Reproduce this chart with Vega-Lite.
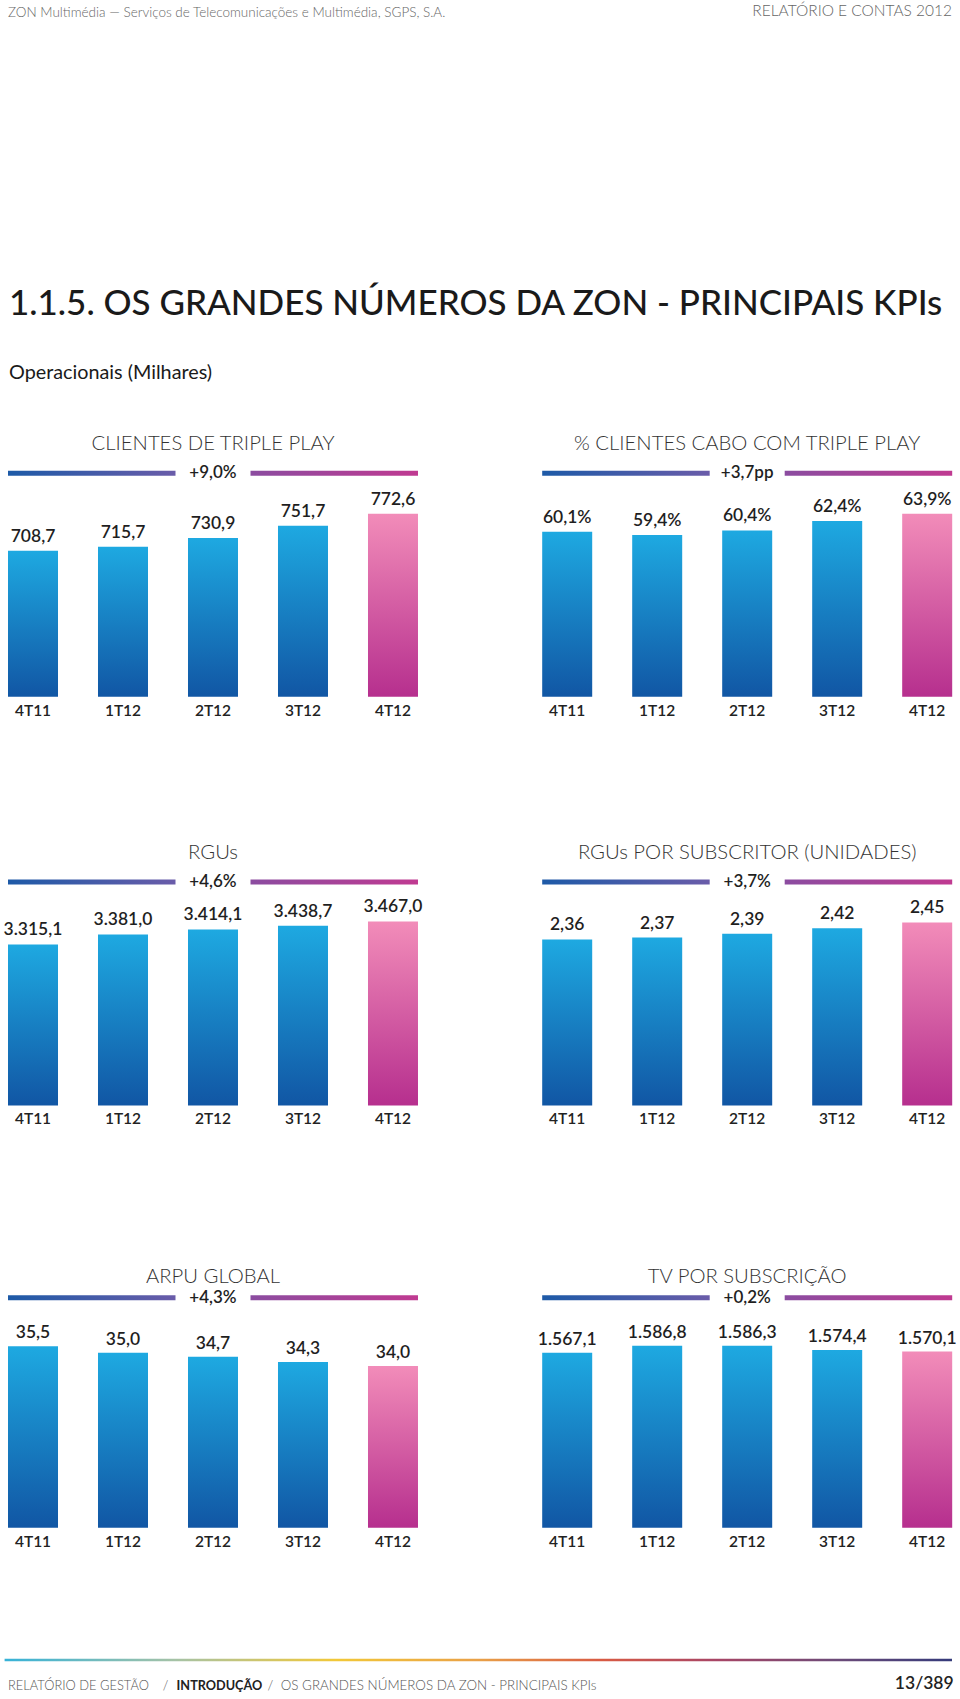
{
  "$schema": "https://vega.github.io/schema/vega-lite/v6.json",
  "background": "white",
  "padding": {"left": 2.6, "top": 3.8, "right": 2, "bottom": 2},
  "config": {
    "locale": {"number": {"decimal": ",", "thousands": ".", "grouping": [3], "currency": ["", " €"]}},
    "view": {"stroke": null},
    "font": "Lato",
    "title": {"font": "Lato", "fontSize": 20.3, "fontWeight": 300, "color": "#333333", "offset": 9.6, "anchor": "middle", "frame": "group"},
    "axis": {"domain": false, "ticks": false, "tickSize": 0, "labelPadding": 6.6, "labelFont": "Lato", "labelFontSize": 15.5, "labelFontWeight": 600, "labelColor": "#222222", "labelAngle": 0, "grid": false}
  },
  "spacing": 109,
  "vconcat": [
    {
      "bounds": "flush",
      "spacing": 4,
      "hconcat": [
        {"width": 470, "height": 157.8, "title": {"text": "ZON Multimédia — Serviços de Telecomunicações e Multimédia, SGPS, S.A.", "anchor": "start", "fontSize": 13.5, "fontWeight": 300, "color": "#666666", "offset": 0, "dx": 3.4}, "data": {"values": []}, "mark": "point", "encoding": {}},
        {"width": 473.4, "height": 157.8, "title": {"text": "RELATÓRIO E CONTAS 2012", "anchor": "end", "fontSize": 15.5, "fontWeight": 300, "color": "#666666", "offset": 0}, "data": {"values": []}, "mark": "point", "encoding": {}}
      ]
    },
    {
      "spacing": 138.4,
      "title": {"text": "1.1.5. OS GRANDES NÚMEROS DA ZON - PRINCIPAIS KPIs", "subtitle": "Operacionais (Milhares)", "anchor": "start", "frame": "group", "dx": 4.4, "font": "Lato", "fontSize": 35, "fontWeight": 500, "color": "#1a1a1a", "subtitleFont": "Lato", "subtitleFontSize": 19.8, "subtitleFontWeight": 400, "subtitleColor": "#1a1a1a", "subtitlePadding": 40.5, "offset": 52},
      "vconcat": [
        {
          "spacing": 122.6,
          "vconcat": [
            {
              "bounds": "flush",
              "spacing": 117.2,
              "hconcat": [
                {
                  "width": 416.8, "height": 226,
                  "title": {"text": "CLIENTES DE TRIPLE PLAY"},
                  "data": {"values": [
                    {"trimestre": "4T11", "valor": 708.7},
                    {"trimestre": "1T12", "valor": 715.7},
                    {"trimestre": "2T12", "valor": 730.9},
                    {"trimestre": "3T12", "valor": 751.7},
                    {"trimestre": "4T12", "valor": 772.6}
                  ]},
                  "encoding": {"x": {"field": "trimestre", "type": "nominal", "sort": null, "title": null, "scale": {"paddingInner": 0.4444, "paddingOuter": 0.0378}}},
                  "layer": [
                    {"mark": {"type": "bar"}, "encoding": {
                      "y": {"field": "valor", "type": "quantitative", "scale": {"domain": [456.5, 846.8], "nice": false, "zero": false}, "axis": null},
                      "y2": {"datum": 456.5},
                      "color": {"condition": {"test": "datum.trimestre === '4T12'", "value": {"gradient": "linear", "x1": 0, "y1": 0, "x2": 0, "y2": 1, "stops": [{"offset": 0, "color": "#f28cb9"}, {"offset": 1, "color": "#b62f8e"}]}}, "value": {"gradient": "linear", "x1": 0, "y1": 0, "x2": 0, "y2": 1, "stops": [{"offset": 0, "color": "#1ea9e1"}, {"offset": 1, "color": "#1156a4"}]}}
                    }},
                    {"mark": {"type": "text", "baseline": "alphabetic", "dy": -9, "font": "Lato", "fontSize": 17.5, "fontWeight": 600, "color": "#1f1f1f"}, "encoding": {"y": {"field": "valor", "type": "quantitative"}, "text": {"field": "valor", "type": "quantitative", "format": ",.1f"}}},
                    {"data": {"values": [{"variacao": "+9,0%"}]}, "layer": [
                      {"mark": {"type": "rect", "color": {"gradient": "linear", "x1": 0, "y1": 0, "x2": 1, "y2": 0, "stops": [{"offset": 0, "color": "#1d5aa7"}, {"offset": 1, "color": "#6a5ca9"}]}}, "encoding": {"x": {"datum": "4T11", "bandPosition": 0}, "x2": {"datum": "2T12", "bandPosition": -0.25}, "y": {"datum": 846.8}, "y2": {"datum": 838.16}}},
                      {"mark": {"type": "rect", "color": {"gradient": "linear", "x1": 0, "y1": 0, "x2": 1, "y2": 0, "stops": [{"offset": 0, "color": "#8b4ca0"}, {"offset": 1, "color": "#c03a91"}]}}, "encoding": {"x": {"datum": "2T12", "bandPosition": 1.25}, "x2": {"datum": "4T12", "bandPosition": 1}, "y": {"datum": 846.8}, "y2": {"datum": 838.16}}},
                      {"mark": {"type": "text", "baseline": "middle", "font": "Lato", "fontSize": 17, "fontWeight": 600, "color": "#1f1f1f"}, "encoding": {"x": {"datum": "2T12", "bandPosition": 0.5}, "y": {"datum": 842.48}, "text": {"field": "variacao"}}}
                    ]}
                  ]
                },
                {
                  "width": 416.8, "height": 226,
                  "title": {"text": "% CLIENTES CABO COM TRIPLE PLAY"},
                  "data": {"values": [
                    {"trimestre": "4T11", "valor": 0.601},
                    {"trimestre": "1T12", "valor": 0.594},
                    {"trimestre": "2T12", "valor": 0.604},
                    {"trimestre": "3T12", "valor": 0.624},
                    {"trimestre": "4T12", "valor": 0.639}
                  ]},
                  "encoding": {"x": {"field": "trimestre", "type": "nominal", "sort": null, "title": null, "scale": {"paddingInner": 0.4444, "paddingOuter": 0.0378}}},
                  "layer": [
                    {"mark": {"type": "bar"}, "encoding": {
                      "y": {"field": "valor", "type": "quantitative", "scale": {"domain": [0.2529, 0.7297], "nice": false, "zero": false}, "axis": null},
                      "y2": {"datum": 0.2529},
                      "color": {"condition": {"test": "datum.trimestre === '4T12'", "value": {"gradient": "linear", "x1": 0, "y1": 0, "x2": 0, "y2": 1, "stops": [{"offset": 0, "color": "#f28cb9"}, {"offset": 1, "color": "#b62f8e"}]}}, "value": {"gradient": "linear", "x1": 0, "y1": 0, "x2": 0, "y2": 1, "stops": [{"offset": 0, "color": "#1ea9e1"}, {"offset": 1, "color": "#1156a4"}]}}
                    }},
                    {"mark": {"type": "text", "baseline": "alphabetic", "dy": -9, "font": "Lato", "fontSize": 17.5, "fontWeight": 600, "color": "#1f1f1f"}, "encoding": {"y": {"field": "valor", "type": "quantitative"}, "text": {"field": "valor", "type": "quantitative", "format": ".1%"}}},
                    {"data": {"values": [{"variacao": "+3,7pp"}]}, "layer": [
                      {"mark": {"type": "rect", "color": {"gradient": "linear", "x1": 0, "y1": 0, "x2": 1, "y2": 0, "stops": [{"offset": 0, "color": "#1d5aa7"}, {"offset": 1, "color": "#6a5ca9"}]}}, "encoding": {"x": {"datum": "4T11", "bandPosition": 0}, "x2": {"datum": "2T12", "bandPosition": -0.25}, "y": {"datum": 0.7297}, "y2": {"datum": 0.71915}}},
                      {"mark": {"type": "rect", "color": {"gradient": "linear", "x1": 0, "y1": 0, "x2": 1, "y2": 0, "stops": [{"offset": 0, "color": "#8b4ca0"}, {"offset": 1, "color": "#c03a91"}]}}, "encoding": {"x": {"datum": "2T12", "bandPosition": 1.25}, "x2": {"datum": "4T12", "bandPosition": 1}, "y": {"datum": 0.7297}, "y2": {"datum": 0.71915}}},
                      {"mark": {"type": "text", "baseline": "middle", "font": "Lato", "fontSize": 17, "fontWeight": 600, "color": "#1f1f1f"}, "encoding": {"x": {"datum": "2T12", "bandPosition": 0.5}, "y": {"datum": 0.72443}, "text": {"field": "variacao"}}}
                    ]}
                  ]
                }
              ]
            },
            {
              "bounds": "flush",
              "spacing": 117.2,
              "hconcat": [
                {
                  "width": 416.8, "height": 226,
                  "title": {"text": "RGUs"},
                  "data": {"values": [
                    {"trimestre": "4T11", "valor": 3315.1},
                    {"trimestre": "1T12", "valor": 3381.0},
                    {"trimestre": "2T12", "valor": 3414.1},
                    {"trimestre": "3T12", "valor": 3438.7},
                    {"trimestre": "4T12", "valor": 3467.0}
                  ]},
                  "encoding": {"x": {"field": "trimestre", "type": "nominal", "sort": null, "title": null, "scale": {"paddingInner": 0.4444, "paddingOuter": 0.0378}}},
                  "layer": [
                    {"mark": {"type": "bar"}, "encoding": {
                      "y": {"field": "valor", "type": "quantitative", "scale": {"domain": [2252, 3744.7], "nice": false, "zero": false}, "axis": null},
                      "y2": {"datum": 2252},
                      "color": {"condition": {"test": "datum.trimestre === '4T12'", "value": {"gradient": "linear", "x1": 0, "y1": 0, "x2": 0, "y2": 1, "stops": [{"offset": 0, "color": "#f28cb9"}, {"offset": 1, "color": "#b62f8e"}]}}, "value": {"gradient": "linear", "x1": 0, "y1": 0, "x2": 0, "y2": 1, "stops": [{"offset": 0, "color": "#1ea9e1"}, {"offset": 1, "color": "#1156a4"}]}}
                    }},
                    {"mark": {"type": "text", "baseline": "alphabetic", "dy": -9, "font": "Lato", "fontSize": 17.5, "fontWeight": 600, "color": "#1f1f1f"}, "encoding": {"y": {"field": "valor", "type": "quantitative"}, "text": {"field": "valor", "type": "quantitative", "format": ",.1f"}}},
                    {"data": {"values": [{"variacao": "+4,6%"}]}, "layer": [
                      {"mark": {"type": "rect", "color": {"gradient": "linear", "x1": 0, "y1": 0, "x2": 1, "y2": 0, "stops": [{"offset": 0, "color": "#1d5aa7"}, {"offset": 1, "color": "#6a5ca9"}]}}, "encoding": {"x": {"datum": "4T11", "bandPosition": 0}, "x2": {"datum": "2T12", "bandPosition": -0.25}, "y": {"datum": 3744.7}, "y2": {"datum": 3711.7}}},
                      {"mark": {"type": "rect", "color": {"gradient": "linear", "x1": 0, "y1": 0, "x2": 1, "y2": 0, "stops": [{"offset": 0, "color": "#8b4ca0"}, {"offset": 1, "color": "#c03a91"}]}}, "encoding": {"x": {"datum": "2T12", "bandPosition": 1.25}, "x2": {"datum": "4T12", "bandPosition": 1}, "y": {"datum": 3744.7}, "y2": {"datum": 3711.7}}},
                      {"mark": {"type": "text", "baseline": "middle", "font": "Lato", "fontSize": 17, "fontWeight": 600, "color": "#1f1f1f"}, "encoding": {"x": {"datum": "2T12", "bandPosition": 0.5}, "y": {"datum": 3728.2}, "text": {"field": "variacao"}}}
                    ]}
                  ]
                },
                {
                  "width": 416.8, "height": 226,
                  "title": {"text": "RGUs POR SUBSCRITOR (UNIDADES)"},
                  "data": {"values": [
                    {"trimestre": "4T11", "valor": 2.36},
                    {"trimestre": "1T12", "valor": 2.37},
                    {"trimestre": "2T12", "valor": 2.39},
                    {"trimestre": "3T12", "valor": 2.42},
                    {"trimestre": "4T12", "valor": 2.45}
                  ]},
                  "encoding": {"x": {"field": "trimestre", "type": "nominal", "sort": null, "title": null, "scale": {"paddingInner": 0.4444, "paddingOuter": 0.0378}}},
                  "layer": [
                    {"mark": {"type": "bar"}, "encoding": {
                      "y": {"field": "valor", "type": "quantitative", "scale": {"domain": [1.482, 2.678], "nice": false, "zero": false}, "axis": null},
                      "y2": {"datum": 1.482},
                      "color": {"condition": {"test": "datum.trimestre === '4T12'", "value": {"gradient": "linear", "x1": 0, "y1": 0, "x2": 0, "y2": 1, "stops": [{"offset": 0, "color": "#f28cb9"}, {"offset": 1, "color": "#b62f8e"}]}}, "value": {"gradient": "linear", "x1": 0, "y1": 0, "x2": 0, "y2": 1, "stops": [{"offset": 0, "color": "#1ea9e1"}, {"offset": 1, "color": "#1156a4"}]}}
                    }},
                    {"mark": {"type": "text", "baseline": "alphabetic", "dy": -9, "font": "Lato", "fontSize": 17.5, "fontWeight": 600, "color": "#1f1f1f"}, "encoding": {"y": {"field": "valor", "type": "quantitative"}, "text": {"field": "valor", "type": "quantitative", "format": ".2f"}}},
                    {"data": {"values": [{"variacao": "+3,7%"}]}, "layer": [
                      {"mark": {"type": "rect", "color": {"gradient": "linear", "x1": 0, "y1": 0, "x2": 1, "y2": 0, "stops": [{"offset": 0, "color": "#1d5aa7"}, {"offset": 1, "color": "#6a5ca9"}]}}, "encoding": {"x": {"datum": "4T11", "bandPosition": 0}, "x2": {"datum": "2T12", "bandPosition": -0.25}, "y": {"datum": 2.678}, "y2": {"datum": 2.6515}}},
                      {"mark": {"type": "rect", "color": {"gradient": "linear", "x1": 0, "y1": 0, "x2": 1, "y2": 0, "stops": [{"offset": 0, "color": "#8b4ca0"}, {"offset": 1, "color": "#c03a91"}]}}, "encoding": {"x": {"datum": "2T12", "bandPosition": 1.25}, "x2": {"datum": "4T12", "bandPosition": 1}, "y": {"datum": 2.678}, "y2": {"datum": 2.6515}}},
                      {"mark": {"type": "text", "baseline": "middle", "font": "Lato", "fontSize": 17, "fontWeight": 600, "color": "#1f1f1f"}, "encoding": {"x": {"datum": "2T12", "bandPosition": 0.5}, "y": {"datum": 2.66475}, "text": {"field": "variacao"}}}
                    ]}
                  ]
                }
              ]
            }
          ]
        },
        {
          "bounds": "flush",
          "spacing": 117.2,
          "hconcat": [
            {
              "width": 416.8, "height": 232.5,
              "title": {"text": "ARPU GLOBAL", "offset": 1.8},
              "data": {"values": [
                {"trimestre": "4T11", "valor": 35.5},
                {"trimestre": "1T12", "valor": 35.0},
                {"trimestre": "2T12", "valor": 34.7},
                {"trimestre": "3T12", "valor": 34.3},
                {"trimestre": "4T12", "valor": 34.0}
              ]},
              "encoding": {"x": {"field": "trimestre", "type": "nominal", "sort": null, "title": null, "scale": {"paddingInner": 0.4444, "paddingOuter": 0.0378}}},
              "layer": [
                {"mark": {"type": "bar"}, "encoding": {
                  "y": {"field": "valor", "type": "quantitative", "scale": {"domain": [21.85, 39.33], "nice": false, "zero": false}, "axis": null},
                  "y2": {"datum": 21.85},
                  "color": {"condition": {"test": "datum.trimestre === '4T12'", "value": {"gradient": "linear", "x1": 0, "y1": 0, "x2": 0, "y2": 1, "stops": [{"offset": 0, "color": "#f28cb9"}, {"offset": 1, "color": "#b62f8e"}]}}, "value": {"gradient": "linear", "x1": 0, "y1": 0, "x2": 0, "y2": 1, "stops": [{"offset": 0, "color": "#1ea9e1"}, {"offset": 1, "color": "#1156a4"}]}}
                }},
                {"mark": {"type": "text", "baseline": "alphabetic", "dy": -8, "font": "Lato", "fontSize": 17.5, "fontWeight": 600, "color": "#1f1f1f"}, "encoding": {"y": {"field": "valor", "type": "quantitative"}, "text": {"field": "valor", "type": "quantitative", "format": ".1f"}}},
                {"data": {"values": [{"variacao": "+4,3%"}]}, "layer": [
                  {"mark": {"type": "rect", "color": {"gradient": "linear", "x1": 0, "y1": 0, "x2": 1, "y2": 0, "stops": [{"offset": 0, "color": "#1d5aa7"}, {"offset": 1, "color": "#6a5ca9"}]}}, "encoding": {"x": {"datum": "4T11", "bandPosition": 0}, "x2": {"datum": "2T12", "bandPosition": -0.25}, "y": {"datum": 39.33}, "y2": {"datum": 38.954}}},
                  {"mark": {"type": "rect", "color": {"gradient": "linear", "x1": 0, "y1": 0, "x2": 1, "y2": 0, "stops": [{"offset": 0, "color": "#8b4ca0"}, {"offset": 1, "color": "#c03a91"}]}}, "encoding": {"x": {"datum": "2T12", "bandPosition": 1.25}, "x2": {"datum": "4T12", "bandPosition": 1}, "y": {"datum": 39.33}, "y2": {"datum": 38.954}}},
                  {"mark": {"type": "text", "baseline": "middle", "font": "Lato", "fontSize": 17, "fontWeight": 600, "color": "#1f1f1f"}, "encoding": {"x": {"datum": "2T12", "bandPosition": 0.5}, "y": {"datum": 39.142}, "text": {"field": "variacao"}}}
                ]}
              ]
            },
            {
              "width": 416.8, "height": 232.5,
              "title": {"text": "TV POR SUBSCRIÇÃO", "offset": 1.8},
              "data": {"values": [
                {"trimestre": "4T11", "valor": 1567.1},
                {"trimestre": "1T12", "valor": 1586.8},
                {"trimestre": "2T12", "valor": 1586.3},
                {"trimestre": "3T12", "valor": 1574.4},
                {"trimestre": "4T12", "valor": 1570.1}
              ]},
              "encoding": {"x": {"field": "trimestre", "type": "nominal", "sort": null, "title": null, "scale": {"paddingInner": 0.4444, "paddingOuter": 0.0378}}},
              "layer": [
                {"mark": {"type": "bar"}, "encoding": {
                  "y": {"field": "valor", "type": "quantitative", "scale": {"domain": [1074, 1729], "nice": false, "zero": false}, "axis": null},
                  "y2": {"datum": 1074},
                  "color": {"condition": {"test": "datum.trimestre === '4T12'", "value": {"gradient": "linear", "x1": 0, "y1": 0, "x2": 0, "y2": 1, "stops": [{"offset": 0, "color": "#f28cb9"}, {"offset": 1, "color": "#b62f8e"}]}}, "value": {"gradient": "linear", "x1": 0, "y1": 0, "x2": 0, "y2": 1, "stops": [{"offset": 0, "color": "#1ea9e1"}, {"offset": 1, "color": "#1156a4"}]}}
                }},
                {"mark": {"type": "text", "baseline": "alphabetic", "dy": -8, "font": "Lato", "fontSize": 17.5, "fontWeight": 600, "color": "#1f1f1f"}, "encoding": {"y": {"field": "valor", "type": "quantitative"}, "text": {"field": "valor", "type": "quantitative", "format": ",.1f"}}},
                {"data": {"values": [{"variacao": "+0,2%"}]}, "layer": [
                  {"mark": {"type": "rect", "color": {"gradient": "linear", "x1": 0, "y1": 0, "x2": 1, "y2": 0, "stops": [{"offset": 0, "color": "#1d5aa7"}, {"offset": 1, "color": "#6a5ca9"}]}}, "encoding": {"x": {"datum": "4T11", "bandPosition": 0}, "x2": {"datum": "2T12", "bandPosition": -0.25}, "y": {"datum": 1729}, "y2": {"datum": 1714.9}}},
                  {"mark": {"type": "rect", "color": {"gradient": "linear", "x1": 0, "y1": 0, "x2": 1, "y2": 0, "stops": [{"offset": 0, "color": "#8b4ca0"}, {"offset": 1, "color": "#c03a91"}]}}, "encoding": {"x": {"datum": "2T12", "bandPosition": 1.25}, "x2": {"datum": "4T12", "bandPosition": 1}, "y": {"datum": 1729}, "y2": {"datum": 1714.9}}},
                  {"mark": {"type": "text", "baseline": "middle", "font": "Lato", "fontSize": 17, "fontWeight": 600, "color": "#1f1f1f"}, "encoding": {"x": {"datum": "2T12", "bandPosition": 0.5}, "y": {"datum": 1721.95}, "text": {"field": "variacao"}}}
                ]}
              ]
            }
          ]
        }
      ]
    },
    {
      "spacing": 13,
      "vconcat": [
        {"width": 947.4, "height": 2.5, "data": {"values": [{"linha": "rodapé"}]}, "mark": {"type": "rect", "color": {"gradient": "linear", "x1": 0, "y1": 0, "x2": 1, "y2": 0, "stops": [{"offset": 0, "color": "#36b2d8"}, {"offset": 0.18, "color": "#a5c2a6"}, {"offset": 0.35, "color": "#f2c838"}, {"offset": 0.5, "color": "#e9a047"}, {"offset": 0.63, "color": "#d85a43"}, {"offset": 0.75, "color": "#a84565"}, {"offset": 0.88, "color": "#6b4a78"}, {"offset": 1, "color": "#343a7a"}]}}, "encoding": {}},
        {
          "bounds": "flush",
          "spacing": 0,
          "hconcat": [
            {"width": 171.4, "height": 1, "title": {"text": "RELATÓRIO DE GESTÃO\u00a0\u00a0\u00a0\u00a0/", "anchor": "start", "fontSize": 12.9, "fontWeight": 300, "color": "#555555", "offset": 0, "dx": 3.4}, "data": {"values": []}, "mark": "point", "encoding": {}},
            {"width": 90.75, "height": 1, "title": {"text": "INTRODUÇÃO", "anchor": "start", "fontSize": 12.7, "fontWeight": 700, "color": "#222222", "offset": 0}, "data": {"values": []}, "mark": "point", "encoding": {}},
            {"width": 400.25, "height": 1, "title": {"text": "/\u00a0\u00a0OS GRANDES NÚMEROS DA ZON - PRINCIPAIS KPIs", "anchor": "start", "fontSize": 13.4, "fontWeight": 300, "color": "#555555", "offset": 0}, "data": {"values": []}, "mark": "point", "encoding": {}},
            {"width": 285, "height": 1, "title": {"text": "13/389", "anchor": "end", "fontSize": 17.5, "fontWeight": 600, "color": "#222222", "offset": 0}, "data": {"values": []}, "mark": "point", "encoding": {}}
          ]
        }
      ]
    }
  ]
}
